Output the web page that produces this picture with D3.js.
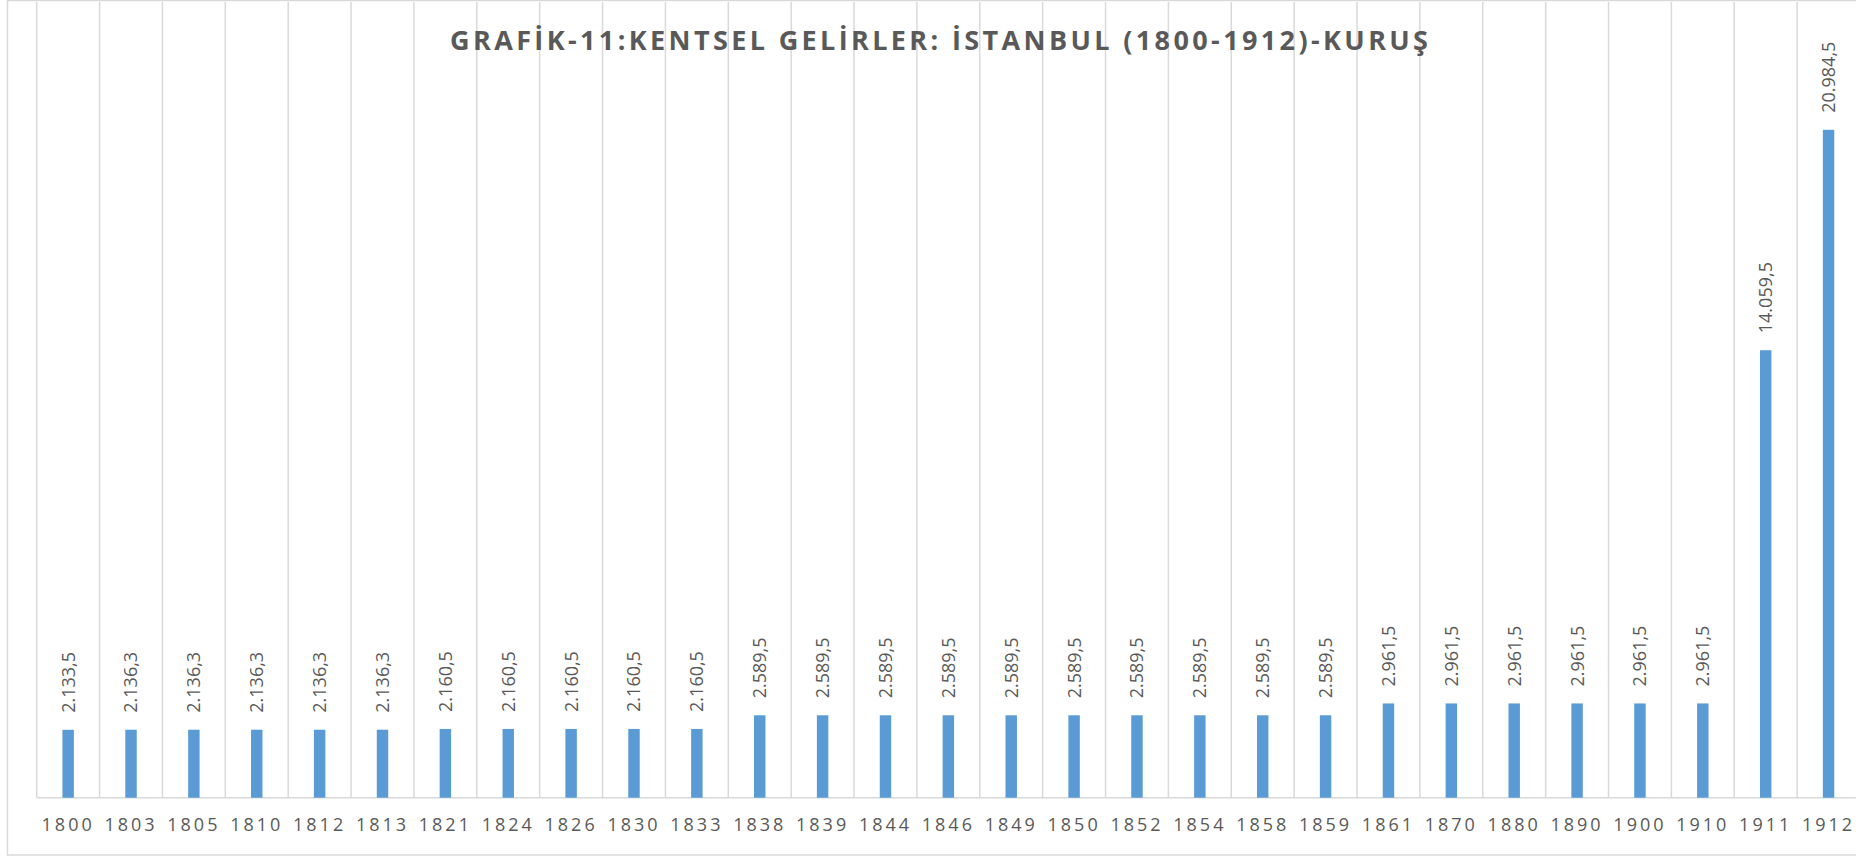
<!DOCTYPE html>
<html>
<head>
<meta charset="utf-8">
<script src="https://cdn.jsdelivr.net/npm/d3@7"></script>
<style>
  body { margin: 0; background: #fff; }
  svg { display: block; }
</style>
</head>
<body>
<div id="chart"></div>
<script>
// data
let years = ["1800","1803","1805","1810","1812","1813","1821","1824","1826","1830","1833","1838","1839","1844","1846","1849","1850","1852","1854","1858","1859","1861","1870","1880","1890","1900","1910","1911","1912"];
let revenues = [2133.5,2136.3,2136.3,2136.3,2136.3,2136.3,2160.5,2160.5,2160.5,2160.5,2160.5,2589.5,2589.5,2589.5,2589.5,2589.5,2589.5,2589.5,2589.5,2589.5,2589.5,2961.5,2961.5,2961.5,2961.5,2961.5,2961.5,14059.5,20984.5];
let yMax = 25000;
let title = "GRAFİK-11:KENTSEL GELİRLER: İSTANBUL (1800-1912)-KURUŞ";

let rows = years.map((y, i) => ({ year: y, value: revenues[i] }));

let width = 1856, height = 857;
let plotLeft = 36.7, plotRight = 1860, plotTop = 2, plotBottom = 797.7;
let grey = "#595959", lineCol = "#d9d9d9", barCol = "#5b9bd5";

let svg = d3.select("#chart").append("svg")
    .attr("width", width)
    .attr("height", height);

// outer chart frame
svg.append("rect")
    .attr("x", 7.5).attr("y", 0.5)
    .attr("width", 1880).attr("height", 854.5)
    .attr("fill", "#fff")
    .attr("stroke", lineCol)
    .attr("stroke-width", 1.5);

let x = d3.scaleBand()
    .domain(years)
    .range([plotLeft, plotRight])
    .padding(0);

let y = d3.scaleLinear()
    .domain([0, yMax])
    .range([plotBottom, plotTop]);

// vertical gridlines on category boundaries
let bounds = years.map((d) => x(d)).concat([x(years[years.length - 1]) + x.step()]);
svg.append("g").selectAll("line")
    .data(bounds).enter()
    .append("line")
    .attr("x1", (d) => d).attr("x2", (d) => d)
    .attr("y1", plotTop).attr("y2", plotBottom)
    .attr("stroke", lineCol)
    .attr("stroke-width", 1.5);

// baseline
svg.append("line")
    .attr("x1", plotLeft).attr("x2", plotRight)
    .attr("y1", plotBottom).attr("y2", plotBottom)
    .attr("stroke", lineCol)
    .attr("stroke-width", 1.5);

let barW = x.bandwidth() * 0.182;

svg.append("g").selectAll("rect")
    .data(rows).enter()
    .append("rect")
    .attr("x", (d) => x(d.year) + x.bandwidth() / 2 - barW / 2)
    .attr("y", (d) => y(d.value))
    .attr("width", barW)
    .attr("height", (d) => plotBottom - y(d.value))
    .attr("fill", barCol);

// value labels, rotated (turkish number format)
let fmt = (v) => {
    let s = v.toFixed(1).split(".");
    let intPart = s[0].replace(/\B(?=(\d{3})+(?!\d))/g, ".");
    return intPart + "," + s[1];
};

svg.append("g").selectAll("text")
    .data(rows).enter()
    .append("text")
    .attr("transform", (d) => "translate(" + (x(d.year) + x.bandwidth() / 2) + "," + (y(d.value) - 17) + ") rotate(-90)")
    .attr("dy", "0.36em")
    .attr("text-anchor", "start")
    .style("font-family", "'Open Sans', sans-serif")
    .style("font-size", "18px")
    .style("fill", grey)
    .text((d) => fmt(d.value));

// category labels
svg.append("g").selectAll("text")
    .data(years).enter()
    .append("text")
    .attr("x", (d) => x(d) + x.bandwidth() / 2)
    .attr("y", 825)
    .attr("dy", "0.35em")
    .attr("text-anchor", "middle")
    .style("font-family", "'Open Sans', sans-serif")
    .style("font-size", "18px")
    .style("letter-spacing", "3px")
    .style("fill", grey)
    .text((d) => d);

// title
svg.append("text")
    .attr("x", 450)
    .attr("y", 50)
    .attr("textLength", 978)
    .attr("lengthAdjust", "spacing")
    .style("font-family", "'Open Sans', sans-serif")
    .style("font-weight", "bold")
    .style("font-size", "27px")
    .style("fill", grey)
    .text(title);
</script>
</body>
</html>
